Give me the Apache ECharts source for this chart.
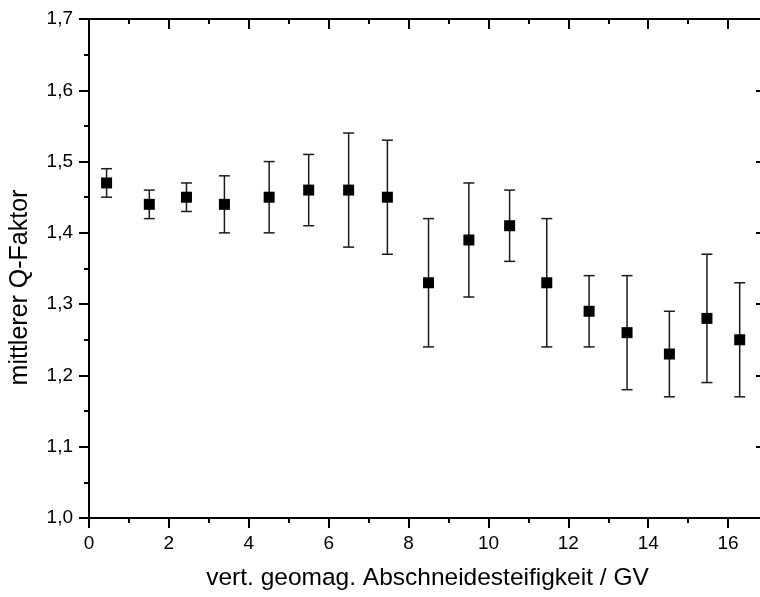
<!DOCTYPE html>
<html>
<head>
<meta charset="utf-8">
<script src="https://cdn.jsdelivr.net/npm/echarts@6/dist/echarts.min.js"></script>
<style>
  html, body { margin: 0; padding: 0; background: #fff; }
  #mychart { width: 760px; height: 597px; }
</style>
</head>
<body>
<div id="mychart"></div>
<script>
// Abschneidesteifigkeit (GV)
const xVals = [0.44, 1.51, 2.44, 3.39, 4.51, 5.50, 6.50, 7.47, 8.50, 9.51, 10.53, 11.46, 12.52, 13.47, 14.53, 15.47, 16.29];
// mittlerer Q-Faktor
const qVals = [1.47, 1.44, 1.45, 1.44, 1.45, 1.46, 1.46, 1.45, 1.33, 1.39, 1.41, 1.33, 1.29, 1.26, 1.23, 1.28, 1.25];
// Fehlerbalken unten / oben
const qLow  = [1.45, 1.42, 1.43, 1.40, 1.40, 1.41, 1.38, 1.37, 1.24, 1.31, 1.36, 1.24, 1.24, 1.18, 1.17, 1.19, 1.17];
const qHigh = [1.49, 1.46, 1.47, 1.48, 1.50, 1.51, 1.54, 1.53, 1.42, 1.47, 1.46, 1.42, 1.34, 1.34, 1.29, 1.37, 1.33];

const FONT = '"Liberation Sans", Arial, sans-serif';

const scatterData = xVals.map((x, i) => [x, qVals[i]]);
const errData = xVals.map((x, i) => [x, qLow[i], qHigh[i]]);

const axisLine = { show: true, onZero: false, lineStyle: { color: '#000', width: 2 } };

const option = {
  backgroundColor: '#fff',
  animation: false,
  grid: [
    // x bis 18, rechts abgeschnitten
    { left: 89, top: 19, width: 719, bottom: 79, outerBoundsMode: 'none', containLabel: false },
    // nur fuer die rechte Achse
    { left: 89, top: 19, width: 673, bottom: 79, outerBoundsMode: 'none', containLabel: false }
  ],
  xAxis: [{
    gridIndex: 0,
    type: 'value',
    position: 'bottom',
    min: 0, max: 18, interval: 2,
    axisLine: axisLine,
    axisTick: { show: true, length: 10, lineStyle: { color: '#000', width: 2 } },
    minorTick: { show: true, splitNumber: 2, length: 5, lineStyle: { color: '#000', width: 2 } },
    splitLine: { show: false },
    axisLabel: { color: '#000', fontFamily: FONT, fontSize: 19, margin: 16 },
    name: 'vert. geomag. Abschneidesteifigkeit / GV',
    nameLocation: 'middle',
    nameGap: 48,
    nameTextStyle: { color: '#000', fontFamily: FONT, fontSize: 24.5, padding: [0, 42, 0, 0] }
  }, {
    gridIndex: 0,
    type: 'value',
    position: 'top',
    min: 0, max: 18, interval: 2,
    axisLine: axisLine,
    axisTick: { show: true, inside: true, length: 10, lineStyle: { color: '#000', width: 2 } },
    minorTick: { show: true, splitNumber: 2, length: 5, lineStyle: { color: '#000', width: 2 } },
    splitLine: { show: false },
    axisLabel: { show: false }
  }, {
    gridIndex: 1,
    type: 'value',
    show: false,
    min: 0, max: 1
  }],
  yAxis: [{
    gridIndex: 0,
    type: 'value',
    position: 'left',
    min: 1, max: 1.7, interval: 0.1,
    axisLine: axisLine,
    axisTick: { show: true, length: 10, lineStyle: { color: '#000', width: 2 } },
    minorTick: { show: true, splitNumber: 2, length: 5, lineStyle: { color: '#000', width: 2 } },
    splitLine: { show: false },
    axisLabel: {
      color: '#000', fontFamily: FONT, fontSize: 19, margin: 16,
      formatter: v => v.toFixed(1).replace('.', ',')
    },
    name: 'mittlerer Q-Faktor',
    nameLocation: 'middle',
    nameGap: 56,
    nameTextStyle: { color: '#000', fontFamily: FONT, fontSize: 25, padding: [0, 38, 0, 0] }
  }, {
    gridIndex: 1,
    type: 'value',
    position: 'right',
    min: 1, max: 1.7, interval: 0.1,
    axisLine: axisLine,
    axisTick: { show: true, inside: true, length: 6, lineStyle: { color: '#000', width: 2 } },
    splitLine: { show: false },
    axisLabel: { show: false }
  }],
  series: [{
    type: 'custom',
    xAxisIndex: 0, yAxisIndex: 0,
    data: errData,
    renderItem: function (params, api) {
      const lo = api.coord([api.value(0), api.value(1)]);
      const hi = api.coord([api.value(0), api.value(2)]);
      const w = 5.5;
      const st = { stroke: '#1a1a1a', lineWidth: 1.5 };
      return {
        type: 'group',
        children: [
          { type: 'line', shape: { x1: lo[0], y1: lo[1], x2: hi[0], y2: hi[1] }, style: st },
          { type: 'line', shape: { x1: lo[0] - w, y1: lo[1], x2: lo[0] + w, y2: lo[1] }, style: st },
          { type: 'line', shape: { x1: hi[0] - w, y1: hi[1], x2: hi[0] + w, y2: hi[1] }, style: st }
        ]
      };
    },
    z: 2
  }, {
    type: 'scatter',
    xAxisIndex: 0, yAxisIndex: 0,
    symbol: 'rect',
    symbolSize: 11,
    itemStyle: { color: '#000', opacity: 1 },
    data: scatterData,
    z: 3
  }]
};

const myChart = echarts.init(document.getElementById('mychart'));
myChart.setOption(option);
</script>
</body>
</html>
